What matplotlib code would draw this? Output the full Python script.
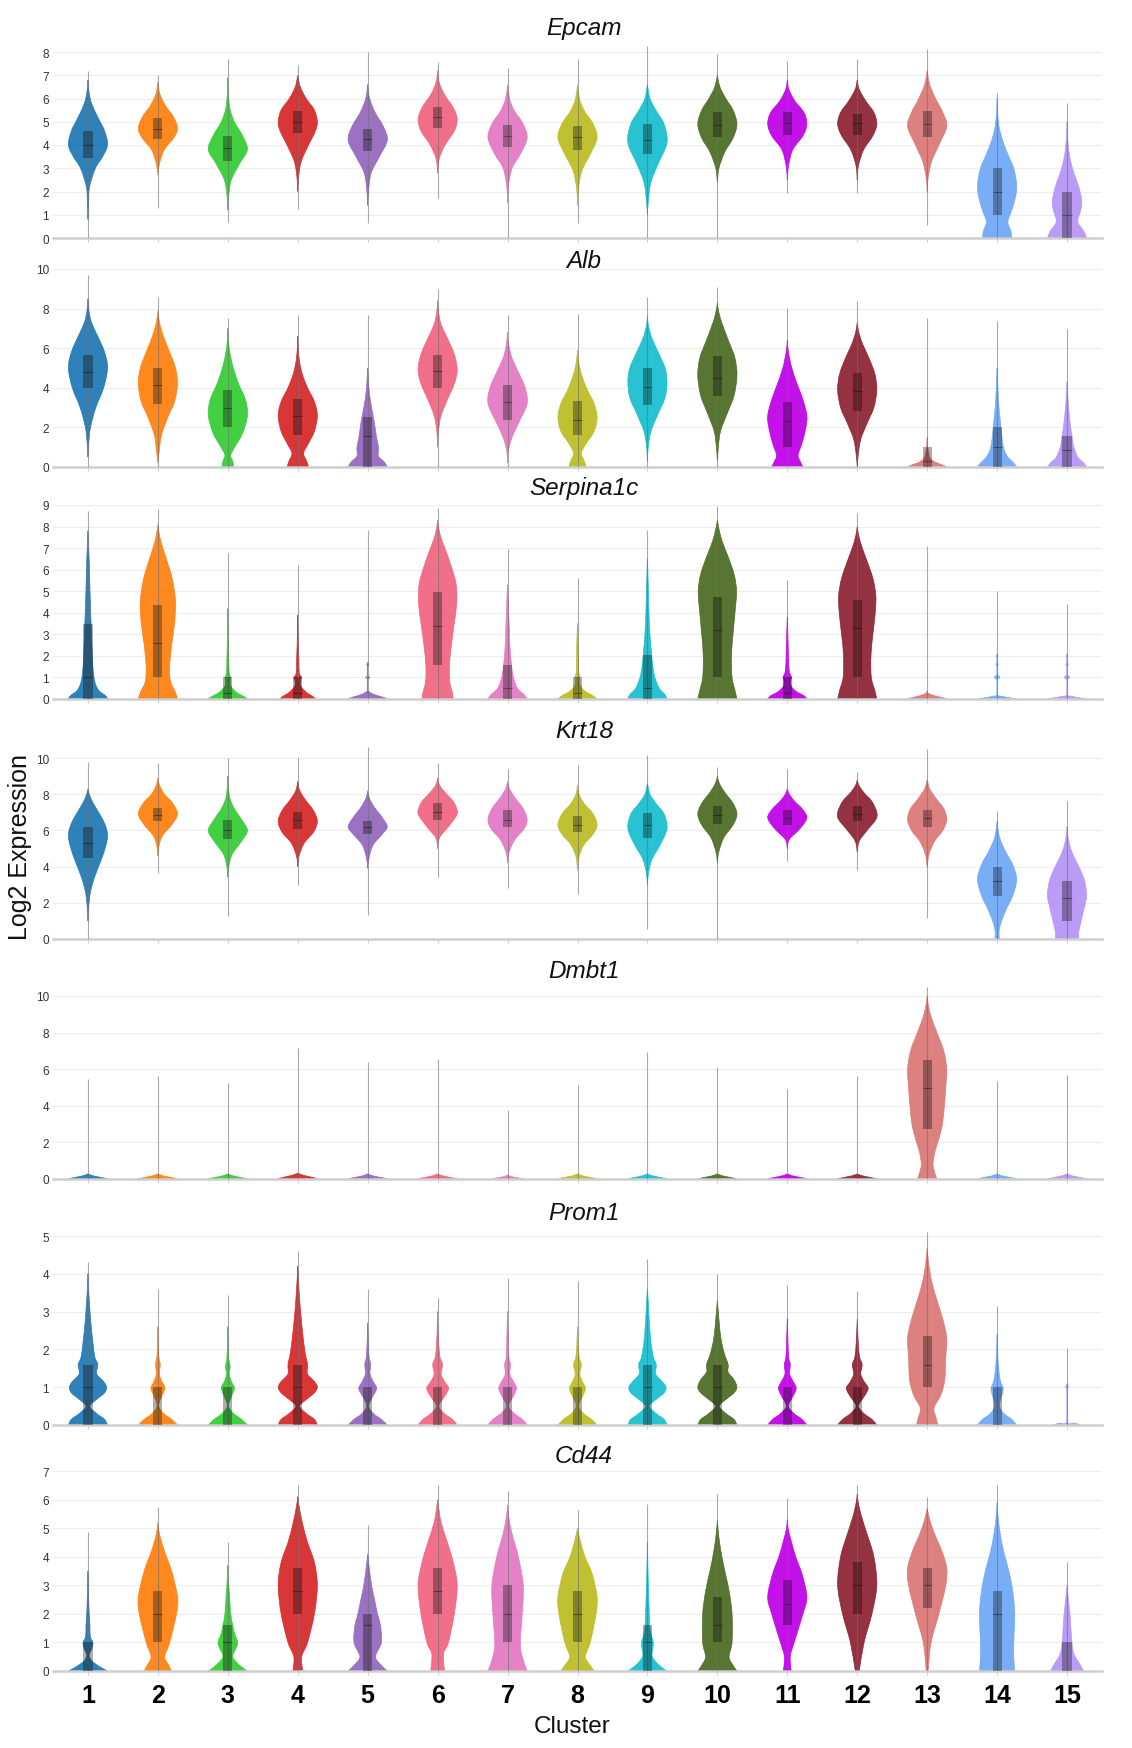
import numpy as np
import matplotlib
matplotlib.use('Agg')
import matplotlib.pyplot as plt
from matplotlib.path import Path
from matplotlib.patches import PathPatch, Rectangle
import logging
logging.getLogger('matplotlib.font_manager').setLevel(logging.ERROR)

plt.rcParams['font.family'] = ['Liberation Sans', 'DejaVu Sans']

# ---------------- data ----------------
CLUSTERS = list(range(1, 16))
COLORS = ['#1f77b4', '#ff7f0e', '#33cc33', '#d62728', '#9467bd', '#f0647f', '#e377c2',
          '#bcbd22', '#17becf', '#4b6b24', '#bf00e6', '#8c2232', '#da7875', '#6fa8f7', '#b594f7']
GENES = ['Epcam', 'Alb', 'Serpina1c', 'Krt18', 'Dmbt1', 'Prom1', 'Cd44']

EPCAM_TICKS = [0, 1, 2, 3, 4, 5, 6, 7, 8]
ALB_TICKS = [0, 2, 4, 6, 8, 10]
SERPINA1C_TICKS = [0, 1, 2, 3, 4, 5, 6, 7, 8, 9]
KRT18_TICKS = [0, 2, 4, 6, 8, 10]
DMBT1_TICKS = [0, 2, 4, 6, 8, 10]
PROM1_TICKS = [0, 1, 2, 3, 4, 5]
CD44_TICKS = [0, 1, 2, 3, 4, 5, 6, 7]

# (min, q1, median, q3, max) per cluster
EPCAM_STATS = [(0, 3.45, 4.0, 4.6, 7.2), (1.3, 4.25, 4.7, 5.15, 7.0), (0.7, 3.3, 3.85, 4.4, 7.7),
               (1.25, 4.5, 5.0, 5.45, 7.45), (0.65, 3.75, 4.25, 4.7, 8.0), (1.7, 4.75, 5.2, 5.65, 7.55),
               (0, 3.9, 4.4, 4.85, 7.3), (0.65, 3.8, 4.35, 4.8, 7.7), (0, 3.6, 4.2, 4.9, 8.25),
               (0, 4.35, 4.85, 5.4, 7.9), (1.95, 4.45, 4.95, 5.4, 7.6), (1.95, 4.45, 4.95, 5.35, 7.7),
               (0.55, 4.35, 4.9, 5.45, 8.15), (0, 1.0, 2.0, 3.0, 6.25), (0, 0.0, 1.0, 2.0, 5.8)]
ALB_STATS = [(0, 4.0, 4.8, 5.65, 9.7), (0, 3.2, 4.15, 5.0, 8.6), (0, 2.0, 3.0, 3.9, 7.55),
             (0, 1.6, 2.6, 3.45, 7.7), (0, 0.0, 1.55, 2.55, 7.7), (0, 4.0, 4.85, 5.65, 9.0),
             (0, 2.35, 3.3, 4.15, 7.7), (0, 1.6, 2.35, 3.35, 7.75), (0, 3.15, 4.05, 5.0, 8.6),
             (0, 3.6, 4.5, 5.6, 9.1), (0, 1.0, 2.3, 3.3, 8.05), (0, 2.85, 3.85, 4.75, 8.4),
             (0, 0.0, 0.3, 1.0, 7.55), (0, 0.0, 1.0, 2.0, 7.35), (0, 0.0, 0.85, 1.55, 6.95)]
SERPINA1C_STATS = [(0, 0, 1.0, 3.5, 8.7), (0, 1.0, 2.6, 4.35, 8.8), (0, 0, 0.3, 1.0, 6.75),
                   (0, 0, 0.3, 1.0, 6.2), (0, 0, 0, 0, 7.85), (0, 1.6, 3.4, 4.95, 8.85),
                   (0, 0, 0.5, 1.6, 6.95), (0, 0, 0.3, 1.0, 5.6), (0, 0, 0.5, 2.05, 7.85),
                   (0, 1.0, 3.2, 4.75, 8.95), (0, 0, 0.3, 1.0, 5.5), (0, 1.0, 3.3, 4.6, 8.65),
                   (0, 0, 0, 0, 7.1), (0, 0, 0, 0, 5.0), (0, 0, 0, 0, 4.4)]
KRT18_STATS = [(0, 4.5, 5.3, 6.2, 9.8), (3.65, 6.5, 6.85, 7.25, 9.75), (1.25, 5.5, 6.0, 6.55, 10.0),
               (3.0, 6.1, 6.55, 7.0, 10.05), (1.3, 5.8, 6.2, 6.5, 10.6), (3.4, 6.6, 7.0, 7.5, 9.7),
               (2.8, 6.2, 6.6, 7.1, 9.4), (2.5, 5.9, 6.3, 6.8, 9.6), (0.55, 5.6, 6.3, 6.95, 10.15),
               (0, 6.35, 6.85, 7.35, 9.5), (4.3, 6.3, 6.7, 7.1, 9.4), (3.8, 6.5, 6.9, 7.35, 9.25),
               (1.15, 6.2, 6.7, 7.15, 10.5), (0, 2.35, 3.2, 4.0, 7.05), (0, 1.0, 2.25, 3.2, 7.6)]
DMBT1_STATS = [(0, 0, 0, 0, 5.45), (0, 0, 0, 0, 5.64), (0, 0, 0, 0, 5.27), (0, 0, 0, 0, 7.15),
               (0, 0, 0, 0, 6.42), (0, 0, 0, 0, 6.58), (0, 0, 0, 0, 3.78), (0, 0, 0, 0, 5.15),
               (0, 0, 0, 0, 6.96), (0, 0, 0, 0, 6.13), (0, 0, 0, 0, 4.91), (0, 0, 0, 0, 5.64),
               (0, 2.75, 5.0, 6.5, 10.5), (0, 0, 0, 0, 5.33), (0, 0, 0, 0, 5.67)]
PROM1_STATS = [(0, 0, 1.0, 1.6, 4.3), (0, 0, 0, 1.0, 3.6), (0, 0, 0, 1.0, 3.45), (0, 0, 1.0, 1.6, 4.6),
               (0, 0, 0, 1.0, 3.6), (0, 0, 0, 1.0, 3.35), (0, 0, 0, 1.0, 3.9), (0, 0, 0, 1.0, 3.8),
               (0, 0, 1.0, 1.6, 4.4), (0, 0, 1.0, 1.6, 4.0), (0, 0, 0, 1.0, 3.7), (0, 0, 0, 1.0, 3.55),
               (0, 1.0, 1.6, 2.35, 5.1), (0, 0, 0, 1.0, 3.15), (0, 0, 0, 0, 2.05)]
CD44_STATS = [(0, 0, 0, 1.0, 4.85), (0, 1.0, 2.0, 2.8, 5.75), (0, 0, 1.0, 1.6, 4.5), (0, 2.0, 2.8, 3.6, 6.5),
              (0, 0, 1.6, 2.0, 5.1), (0, 2.0, 2.8, 3.6, 6.5), (0, 1.0, 2.0, 3.0, 6.3), (0, 1.0, 2.0, 2.8, 5.65),
              (0, 0, 1.0, 1.6, 5.85), (0, 1.0, 1.6, 2.6, 6.2), (0, 1.6, 2.35, 3.2, 6.05), (0, 2.0, 3.0, 3.8, 6.5),
              (0, 2.2, 3.0, 3.6, 6.1), (0, 0, 2.0, 2.8, 6.5), (0, 0, 0, 1.0, 3.8)]

# violin outlines: (value, relative half width)
EPCAM_SHAPES = [
    [(0.8, 0), (1.5, 0.03), (2.2, 0.08), (3.0, 0.38), (3.5, 0.75), (4.0, 1.0), (4.6, 0.85), (5.2, 0.5), (5.8, 0.18), (6.3, 0.05), (6.8, 0)],
    [(2.7, 0), (3.2, 0.08), (3.8, 0.33), (4.3, 0.8), (4.7, 1.0), (5.2, 0.8), (5.7, 0.38), (6.2, 0.1), (6.7, 0)],
    [(1.2, 0), (1.8, 0.04), (2.5, 0.18), (3.2, 0.6), (3.8, 1.0), (4.4, 0.75), (5.0, 0.33), (5.6, 0.1), (6.3, 0.02), (6.9, 0)],
    [(2.0, 0), (2.6, 0.04), (3.3, 0.18), (4.0, 0.55), (4.6, 0.9), (5.0, 1.0), (5.5, 0.85), (6.0, 0.43), (6.5, 0.13), (7.0, 0)],
    [(1.4, 0), (2.0, 0.04), (2.8, 0.18), (3.5, 0.6), (4.2, 1.0), (4.8, 0.8), (5.4, 0.38), (6.0, 0.1), (6.6, 0)],
    [(2.8, 0), (3.4, 0.08), (4.0, 0.38), (4.6, 0.85), (5.1, 1.0), (5.6, 0.8), (6.2, 0.33), (6.7, 0.08), (7.2, 0)],
    [(1.5, 0), (2.2, 0.04), (3.0, 0.23), (3.6, 0.65), (4.3, 1.0), (4.9, 0.8), (5.5, 0.33), (6.0, 0.1), (6.6, 0)],
    [(1.4, 0), (2.1, 0.04), (2.9, 0.23), (3.6, 0.65), (4.3, 1.0), (4.9, 0.8), (5.5, 0.33), (6.0, 0.1), (6.6, 0)],
    [(1.0, 0), (1.6, 0.05), (2.4, 0.18), (3.2, 0.55), (4.1, 1.0), (4.9, 0.85), (5.5, 0.43), (6.0, 0.13), (6.6, 0)],
    [(2.4, 0), (3.0, 0.08), (3.7, 0.38), (4.3, 0.8), (4.9, 1.0), (5.5, 0.8), (6.0, 0.43), (6.5, 0.13), (7.0, 0)],
    [(2.5, 0), (3.1, 0.06), (3.8, 0.28), (4.4, 0.8), (4.9, 1.0), (5.4, 0.85), (5.9, 0.38), (6.4, 0.08), (6.8, 0)],
    [(2.5, 0), (3.1, 0.06), (3.8, 0.33), (4.4, 0.8), (4.9, 1.0), (5.4, 0.85), (5.9, 0.43), (6.4, 0.1), (6.8, 0)],
    [(2.0, 0), (2.6, 0.05), (3.3, 0.23), (4.0, 0.6), (4.8, 1.0), (5.4, 0.8), (6.0, 0.43), (6.6, 0.13), (7.2, 0)],
    [(0, 0.75), (0.3, 0.7), (0.7, 0.55), (1.2, 0.75), (1.8, 0.95), (2.3, 1.0), (3.0, 0.85), (3.6, 0.55), (4.2, 0.28), (4.8, 0.1), (5.5, 0.02), (6.0, 0)],
    [(0, 1.0), (0.3, 0.85), (0.7, 0.55), (1.2, 0.7), (1.6, 0.75), (2.2, 0.6), (2.8, 0.35), (3.4, 0.16), (4.0, 0.06), (4.6, 0.01), (5.0, 0)],
]
ALB_SHAPES = [
    [(0.5, 0), (1.2, 0.04), (2.0, 0.13), (3.0, 0.4), (4.0, 0.8), (5.0, 1.0), (5.8, 0.85), (6.6, 0.5), (7.3, 0.18), (7.9, 0.05), (8.5, 0)],
    [(0.2, 0), (0.8, 0.07), (1.6, 0.18), (2.5, 0.5), (3.3, 0.85), (4.2, 1.0), (5.0, 0.9), (5.8, 0.6), (6.6, 0.28), (7.3, 0.08), (7.9, 0)],
    [(0, 0.3), (0.3, 0.25), (0.6, 0.15), (1.0, 0.35), (1.7, 0.75), (2.6, 1.0), (3.4, 0.9), (4.2, 0.55), (5.0, 0.28), (5.8, 0.1), (6.5, 0.02), (7.0, 0)],
    [(0, 0.55), (0.3, 0.45), (0.7, 0.3), (1.2, 0.55), (1.8, 0.85), (2.6, 1.0), (3.3, 0.85), (4.0, 0.5), (4.7, 0.23), (5.4, 0.08), (6.1, 0.02), (6.6, 0)],
    [(0, 1.0), (0.25, 0.85), (0.55, 0.55), (1.0, 0.55), (1.5, 0.45), (2.2, 0.35), (3.0, 0.2), (3.8, 0.08), (4.5, 0.03), (5.0, 0)],
    [(1.0, 0), (1.8, 0.04), (2.6, 0.18), (3.4, 0.5), (4.2, 0.85), (4.9, 1.0), (5.7, 0.85), (6.5, 0.5), (7.2, 0.18), (7.8, 0.05), (8.4, 0)],
    [(0.2, 0), (0.8, 0.04), (1.5, 0.23), (2.3, 0.6), (3.2, 1.0), (4.0, 0.9), (4.8, 0.55), (5.5, 0.23), (6.2, 0.06), (6.8, 0)],
    [(0, 0.45), (0.3, 0.35), (0.7, 0.2), (1.2, 0.45), (1.8, 0.85), (2.5, 1.0), (3.2, 0.85), (3.9, 0.5), (4.6, 0.23), (5.3, 0.06), (5.9, 0)],
    [(0.3, 0), (1.0, 0.04), (1.8, 0.18), (2.7, 0.55), (3.5, 0.9), (4.3, 1.0), (5.0, 0.9), (5.8, 0.55), (6.5, 0.23), (7.1, 0.06), (7.6, 0)],
    [(0.3, 0), (1.0, 0.05), (1.8, 0.16), (2.7, 0.5), (3.6, 0.85), (4.6, 1.0), (5.5, 0.9), (6.3, 0.6), (7.0, 0.33), (7.7, 0.1), (8.3, 0)],
    [(0, 0.8), (0.3, 0.65), (0.6, 0.55), (1.2, 0.75), (2.0, 0.95), (2.6, 1.0), (3.4, 0.8), (4.2, 0.5), (5.0, 0.23), (5.8, 0.06), (6.4, 0)],
    [(0, 0), (0.6, 0.05), (1.4, 0.18), (2.2, 0.5), (3.0, 0.85), (3.9, 1.0), (4.7, 0.9), (5.5, 0.6), (6.2, 0.28), (6.8, 0.08), (7.3, 0)],
    [(0, 1.0), (0.1, 0.8), (0.25, 0.4), (0.45, 0.15), (0.8, 0.06), (1.1, 0.02), (1.5, 0)],
    [(0, 1.0), (0.2, 0.85), (0.5, 0.55), (0.9, 0.35), (1.5, 0.25), (2.2, 0.18), (3.0, 0.1), (3.8, 0.05), (4.6, 0.02), (5.0, 0)],
    [(0, 1.0), (0.2, 0.85), (0.5, 0.55), (1.0, 0.35), (1.6, 0.25), (2.3, 0.15), (3.0, 0.08), (3.7, 0.03), (4.3, 0)],
]
SERPINA1C_SHAPES = [
    [(0, 1.0), (0.15, 0.9), (0.4, 0.55), (0.8, 0.35), (1.5, 0.25), (2.5, 0.2), (3.5, 0.16), (4.5, 0.12), (5.5, 0.09), (6.5, 0.06), (7.3, 0.02), (7.8, 0)],
    [(0, 1.0), (0.3, 0.9), (0.8, 0.65), (1.5, 0.6), (2.5, 0.7), (3.5, 0.85), (4.5, 0.9), (5.5, 0.75), (6.3, 0.5), (7.0, 0.25), (7.6, 0.08), (8.1, 0)],
    [(0, 1.0), (0.1, 0.85), (0.3, 0.45), (0.6, 0.15), (0.9, 0.12), (1.0, 0.15), (1.2, 0.07), (1.8, 0.05), (2.5, 0.03), (3.5, 0.015), (4.2, 0)],
    [(0, 0.9), (0.1, 0.8), (0.3, 0.45), (0.6, 0.15), (0.9, 0.15), (1.0, 0.2), (1.2, 0.08), (1.8, 0.06), (2.6, 0.03), (3.5, 0.01), (3.9, 0)],
    [(0, 1.0), (0.08, 0.8), (0.2, 0.35), (0.35, 0.05), (0.5, 0), (0.9, 0), (1.0, 0.1), (1.1, 0), (1.5, 0), (1.6, 0.05), (1.7, 0)],
    [(0, 0.8), (0.3, 0.75), (0.8, 0.62), (1.5, 0.6), (2.5, 0.7), (3.5, 0.85), (4.5, 0.98), (5.3, 0.95), (6.0, 0.75), (6.8, 0.45), (7.4, 0.2), (7.9, 0.06), (8.3, 0)],
    [(0, 1.0), (0.2, 0.85), (0.5, 0.5), (1.0, 0.3), (1.6, 0.2), (2.5, 0.12), (3.5, 0.08), (4.5, 0.04), (5.3, 0)],
    [(0, 1.0), (0.15, 0.8), (0.35, 0.4), (0.6, 0.15), (0.9, 0.1), (1.0, 0.13), (1.3, 0.06), (2.0, 0.05), (2.8, 0.03), (3.5, 0)],
    [(0, 1.0), (0.2, 0.9), (0.5, 0.6), (1.0, 0.38), (1.5, 0.28), (2.2, 0.2), (3.0, 0.13), (4.0, 0.08), (5.0, 0.05), (6.0, 0.02), (6.5, 0)],
    [(0, 1.0), (0.4, 0.9), (1.0, 0.75), (2.0, 0.72), (3.0, 0.8), (4.0, 0.9), (5.0, 0.98), (5.8, 0.85), (6.6, 0.55), (7.3, 0.25), (7.9, 0.08), (8.3, 0)],
    [(0, 1.0), (0.15, 0.85), (0.35, 0.45), (0.6, 0.2), (0.9, 0.18), (1.0, 0.22), (1.3, 0.1), (2.0, 0.06), (3.0, 0.03), (3.8, 0)],
    [(0, 1.0), (0.4, 0.9), (1.0, 0.72), (2.0, 0.7), (3.0, 0.8), (4.0, 0.92), (4.8, 0.95), (5.6, 0.8), (6.4, 0.5), (7.1, 0.22), (7.6, 0.07), (8.0, 0)],
    [(0, 1.0), (0.06, 0.8), (0.16, 0.35), (0.27, 0.05), (0.37, 0)],
    [(0, 1.0), (0.05, 0.7), (0.13, 0.2), (0.22, 0), (0.85, 0), (1.0, 0.14), (1.15, 0), (1.5, 0), (1.6, 0.06), (1.7, 0), (1.92, 0), (2.0, 0.04), (2.08, 0)],
    [(0, 1.0), (0.05, 0.7), (0.13, 0.2), (0.22, 0), (0.85, 0), (1.0, 0.14), (1.15, 0), (1.5, 0), (1.6, 0.06), (1.7, 0), (1.92, 0), (2.0, 0.04), (2.08, 0)],
]
KRT18_SHAPES = [
    [(1.0, 0), (1.8, 0.04), (2.6, 0.13), (3.4, 0.33), (4.3, 0.65), (5.1, 0.9), (5.8, 1.0), (6.5, 0.8), (7.2, 0.43), (7.8, 0.13), (8.3, 0)],
    [(4.6, 0), (5.1, 0.05), (5.7, 0.23), (6.3, 0.7), (6.9, 1.0), (7.5, 0.75), (8.0, 0.33), (8.5, 0.08), (8.9, 0)],
    [(3.4, 0), (4.0, 0.05), (4.7, 0.23), (5.4, 0.7), (6.0, 1.0), (6.6, 0.7), (7.2, 0.33), (7.8, 0.1), (8.5, 0.02), (9.0, 0)],
    [(4.0, 0), (4.6, 0.07), (5.3, 0.33), (5.9, 0.8), (6.5, 1.0), (7.1, 0.8), (7.7, 0.38), (8.2, 0.1), (8.7, 0)],
    [(3.9, 0), (4.5, 0.07), (5.2, 0.28), (5.8, 0.75), (6.2, 1.0), (6.7, 0.75), (7.3, 0.33), (7.8, 0.08), (8.2, 0)],
    [(5.0, 0), (5.6, 0.1), (6.2, 0.55), (6.8, 0.95), (7.1, 1.0), (7.6, 0.8), (8.1, 0.38), (8.5, 0.1), (8.9, 0)],
    [(4.2, 0), (4.8, 0.08), (5.5, 0.38), (6.1, 0.85), (6.6, 1.0), (7.2, 0.8), (7.8, 0.38), (8.3, 0.1), (8.7, 0)],
    [(3.8, 0), (4.5, 0.07), (5.2, 0.33), (5.8, 0.8), (6.3, 1.0), (6.9, 0.8), (7.5, 0.33), (8.0, 0.08), (8.5, 0)],
    [(3.0, 0), (3.6, 0.05), (4.4, 0.23), (5.2, 0.65), (6.1, 1.0), (6.9, 0.85), (7.5, 0.43), (8.0, 0.13), (8.6, 0)],
    [(4.2, 0), (4.8, 0.07), (5.6, 0.33), (6.3, 0.8), (6.9, 1.0), (7.5, 0.8), (8.1, 0.38), (8.6, 0.1), (9.0, 0)],
    [(5.0, 0), (5.5, 0.1), (6.1, 0.65), (6.7, 1.0), (7.2, 0.75), (7.6, 0.38), (8.0, 0.1), (8.3, 0)],
    [(4.8, 0), (5.4, 0.1), (6.0, 0.5), (6.6, 0.95), (7.0, 1.0), (7.6, 0.75), (8.1, 0.33), (8.5, 0.08), (8.8, 0)],
    [(4.0, 0), (4.7, 0.1), (5.4, 0.38), (6.0, 0.8), (6.6, 1.0), (7.2, 0.85), (7.8, 0.43), (8.3, 0.13), (8.8, 0)],
    [(0, 0.12), (0.4, 0.1), (0.9, 0.2), (1.6, 0.45), (2.4, 0.8), (3.3, 1.0), (4.1, 0.8), (4.8, 0.45), (5.5, 0.16), (6.1, 0.04), (6.5, 0)],
    [(0, 0.6), (0.4, 0.6), (0.9, 0.7), (1.6, 0.85), (2.4, 1.0), (3.2, 0.9), (3.9, 0.65), (4.6, 0.33), (5.2, 0.13), (5.8, 0.03), (6.2, 0)],
]
_BLOB = [(0, 1.0), (0.07, 0.75), (0.17, 0.28), (0.28, 0)]
DMBT1_SHAPES = [
    _BLOB, _BLOB, _BLOB, [(0, 1.0), (0.08, 0.8), (0.2, 0.3), (0.32, 0)], _BLOB, _BLOB,
    [(0, 0.8), (0.06, 0.55), (0.13, 0.2), (0.22, 0)], _BLOB, _BLOB, _BLOB, _BLOB, _BLOB,
    [(0, 0.5), (0.3, 0.4), (0.8, 0.3), (1.5, 0.4), (2.2, 0.6), (3.0, 0.78), (4.0, 0.88), (5.0, 0.95), (6.0, 1.0), (7.0, 0.85), (8.0, 0.5), (8.8, 0.22), (9.5, 0.06), (10.0, 0)],
    _BLOB, _BLOB,
]
PROM1_SHAPES = [
    [(0, 1.0), (0.15, 0.85), (0.3, 0.45), (0.5, 0.1), (0.7, 0.5), (0.85, 0.85), (1.0, 0.95), (1.15, 0.8), (1.35, 0.45), (1.6, 0.5), (1.8, 0.35), (2.2, 0.25), (2.7, 0.15), (3.2, 0.08), (3.6, 0.03), (4.0, 0)],
    [(0, 1.0), (0.15, 0.7), (0.3, 0.3), (0.5, 0.04), (0.75, 0.18), (0.9, 0.32), (1.0, 0.35), (1.15, 0.2), (1.35, 0.08), (1.6, 0.12), (1.8, 0.05), (2.2, 0.02), (2.6, 0)],
    [(0, 1.0), (0.15, 0.7), (0.3, 0.3), (0.5, 0.03), (0.75, 0.18), (0.9, 0.3), (1.0, 0.33), (1.15, 0.18), (1.35, 0.07), (1.55, 0.12), (1.75, 0.05), (2.2, 0.02), (2.6, 0)],
    [(0, 1.0), (0.15, 0.85), (0.3, 0.45), (0.5, 0.1), (0.7, 0.5), (0.85, 0.85), (1.0, 1.0), (1.15, 0.85), (1.35, 0.5), (1.6, 0.5), (1.9, 0.38), (2.3, 0.28), (2.8, 0.18), (3.3, 0.1), (3.8, 0.04), (4.2, 0)],
    [(0, 1.0), (0.15, 0.7), (0.3, 0.3), (0.5, 0.05), (0.75, 0.25), (0.9, 0.42), (1.0, 0.45), (1.15, 0.28), (1.35, 0.12), (1.6, 0.15), (1.8, 0.07), (2.2, 0.03), (2.7, 0)],
    [(0, 1.0), (0.15, 0.75), (0.3, 0.35), (0.5, 0.06), (0.75, 0.35), (0.9, 0.52), (1.0, 0.55), (1.15, 0.35), (1.35, 0.18), (1.6, 0.25), (1.8, 0.12), (2.2, 0.05), (2.6, 0.02), (3.0, 0)],
    [(0, 1.0), (0.15, 0.75), (0.3, 0.35), (0.5, 0.05), (0.75, 0.28), (0.9, 0.42), (1.0, 0.45), (1.15, 0.3), (1.35, 0.12), (1.6, 0.15), (1.8, 0.07), (2.3, 0.04), (3.0, 0)],
    [(0, 1.0), (0.15, 0.72), (0.3, 0.32), (0.5, 0.05), (0.75, 0.25), (0.9, 0.38), (1.0, 0.4), (1.15, 0.25), (1.35, 0.12), (1.6, 0.2), (1.8, 0.08), (2.2, 0.03), (2.6, 0)],
    [(0, 1.0), (0.15, 0.85), (0.3, 0.45), (0.5, 0.1), (0.7, 0.5), (0.85, 0.85), (1.0, 0.95), (1.15, 0.75), (1.35, 0.42), (1.6, 0.45), (1.8, 0.3), (2.2, 0.18), (2.7, 0.1), (3.2, 0.05), (3.6, 0)],
    [(0, 1.0), (0.15, 0.85), (0.3, 0.45), (0.5, 0.1), (0.7, 0.5), (0.85, 0.85), (1.0, 1.0), (1.2, 0.85), (1.4, 0.55), (1.6, 0.55), (1.9, 0.35), (2.3, 0.18), (2.8, 0.08), (3.3, 0)],
    [(0, 1.0), (0.15, 0.75), (0.3, 0.35), (0.5, 0.05), (0.75, 0.28), (0.9, 0.42), (1.0, 0.45), (1.15, 0.3), (1.35, 0.12), (1.6, 0.15), (1.8, 0.07), (2.3, 0.03), (2.8, 0)],
    [(0, 1.0), (0.15, 0.75), (0.3, 0.35), (0.5, 0.06), (0.75, 0.35), (0.9, 0.52), (1.0, 0.55), (1.15, 0.35), (1.35, 0.18), (1.6, 0.25), (1.8, 0.12), (2.2, 0.05), (2.8, 0)],
    [(0, 0.55), (0.2, 0.45), (0.45, 0.35), (0.8, 0.7), (1.2, 0.9), (1.8, 0.95), (2.3, 1.0), (2.8, 0.8), (3.3, 0.5), (3.8, 0.23), (4.3, 0.07), (4.7, 0)],
    [(0, 1.0), (0.15, 0.75), (0.3, 0.35), (0.5, 0.12), (0.75, 0.22), (0.9, 0.3), (1.0, 0.3), (1.15, 0.18), (1.4, 0.1), (1.8, 0.04), (2.4, 0)],
    [(0, 0.7), (0.05, 0.4), (0.11, 0), (0.9, 0), (1.0, 0.07), (1.1, 0)],
]
CD44_SHAPES = [
    [(0, 1.0), (0.15, 0.6), (0.35, 0.2), (0.55, 0.06), (0.8, 0.2), (1.0, 0.25), (1.2, 0.12), (1.6, 0.1), (2.2, 0.05), (3.0, 0.02), (3.5, 0)],
    [(0, 0.7), (0.2, 0.55), (0.5, 0.35), (1.0, 0.6), (2.0, 0.95), (2.6, 1.0), (3.5, 0.7), (4.2, 0.33), (4.8, 0.08), (5.2, 0)],
    [(0, 1.0), (0.2, 0.6), (0.5, 0.25), (0.8, 0.42), (1.0, 0.5), (1.3, 0.35), (1.6, 0.25), (2.0, 0.15), (2.5, 0.1), (3.1, 0.04), (3.7, 0)],
    [(0, 0.25), (0.5, 0.2), (1.0, 0.5), (2.0, 0.85), (3.0, 1.0), (3.8, 0.85), (4.5, 0.5), (5.2, 0.23), (5.8, 0.06), (6.1, 0)],
    [(0, 1.0), (0.2, 0.7), (0.5, 0.4), (1.0, 0.7), (1.6, 0.65), (2.0, 0.5), (2.5, 0.35), (3.0, 0.2), (3.6, 0.08), (4.1, 0)],
    [(0, 0.35), (0.6, 0.3), (1.0, 0.55), (2.0, 0.85), (3.0, 1.0), (3.8, 0.8), (4.5, 0.5), (5.2, 0.18), (5.8, 0.04), (6.0, 0)],
    [(0, 1.0), (0.5, 0.75), (1.0, 0.65), (2.0, 0.75), (3.0, 0.8), (4.0, 0.55), (4.8, 0.23), (5.4, 0.06), (5.8, 0)],
    [(0, 0.85), (0.2, 0.65), (0.5, 0.4), (1.0, 0.65), (2.0, 0.95), (2.6, 1.0), (3.4, 0.75), (4.0, 0.38), (4.6, 0.13), (5.0, 0)],
    [(0, 1.0), (0.2, 0.6), (0.5, 0.25), (0.8, 0.28), (1.0, 0.3), (1.3, 0.18), (1.6, 0.12), (2.5, 0.07), (3.5, 0.03), (4.5, 0)],
    [(0, 1.0), (0.2, 0.8), (0.5, 0.6), (1.0, 0.75), (2.0, 0.75), (2.8, 0.6), (3.5, 0.38), (4.2, 0.18), (4.8, 0.06), (5.3, 0)],
    [(0, 0.2), (0.5, 0.15), (1.0, 0.35), (2.0, 0.8), (2.6, 1.0), (3.4, 0.75), (4.0, 0.43), (4.6, 0.18), (5.0, 0.04), (5.3, 0)],
    [(0, 0.1), (1.0, 0.35), (2.0, 0.75), (3.0, 1.0), (4.0, 0.85), (4.8, 0.5), (5.5, 0.18), (6.0, 0.03), (6.2, 0)],
    [(0, 0.05), (1.0, 0.2), (2.0, 0.6), (3.0, 0.95), (3.6, 1.0), (4.2, 0.75), (4.8, 0.38), (5.3, 0.13), (5.7, 0)],
    [(0, 0.9), (0.5, 0.85), (1.0, 0.85), (2.0, 0.9), (2.8, 0.8), (3.5, 0.6), (4.2, 0.33), (4.8, 0.16), (5.4, 0.05), (5.9, 0)],
    [(0, 0.85), (0.3, 0.6), (0.6, 0.35), (1.0, 0.25), (1.5, 0.2), (2.0, 0.15), (2.5, 0.07), (3.0, 0)],
]

PANEL_STATS = [EPCAM_STATS, ALB_STATS, SERPINA1C_STATS, KRT18_STATS, DMBT1_STATS, PROM1_STATS, CD44_STATS]
PANEL_SHAPES = [EPCAM_SHAPES, ALB_SHAPES, SERPINA1C_SHAPES, KRT18_SHAPES, DMBT1_SHAPES, PROM1_SHAPES, CD44_SHAPES]
PANEL_TICKS = [EPCAM_TICKS, ALB_TICKS, SERPINA1C_TICKS, KRT18_TICKS, DMBT1_TICKS, PROM1_TICKS, CD44_TICKS]

# ---------------- layout (pixels) ----------------
W, H = 1132, 1749
AX_LEFT, AX_RIGHT = 53, 1102
# (pixel row of value 0, pixels per unit, top value of axis)
PANEL_LAYOUT = [(239, 23.25, 8.3), (468, 19.8, 10.1), (700, 21.56, 9.15), (940, 18.1, 10.75),
                (1180, 18.3, 10.6), (1426, 37.8, 5.15), (1672, 28.57, 7.1)]
TITLE_ROWS = [29, 261, 489, 731, 972, 1214, 1457]
HALF = 0.28
BOX_W = 0.13
NARROW = ['Liberation Sans Narrow', 'Liberation Sans', 'DejaVu Sans']


def bezier_side(pts):
    """Catmull-Rom -> cubic Bezier vertices in (w, y) space."""
    P = [np.array(p, dtype=float) for p in pts]
    n = len(P)
    verts = [P[0]]
    for i in range(n - 1):
        p_prev = P[i - 1] if i > 0 else P[i]
        p_next2 = P[i + 2] if i + 2 < n else P[i + 1]
        c1 = P[i] + (P[i + 1] - p_prev) / 6.0
        c2 = P[i + 1] - (p_next2 - P[i]) / 6.0
        c1[0] = max(c1[0], 0.0)
        c2[0] = max(c2[0], 0.0)
        verts += [c1, c2, P[i + 1]]
    return verts


def violin_path(xc, shape):
    pts = [(w * HALF, y) for (y, w) in shape]
    V = bezier_side(pts)
    right = [(xc + v[0], v[1]) for v in V]
    left = [(xc - v[0], v[1]) for v in V[::-1]]
    verts = right + left + [right[0]]
    codes = ([Path.MOVETO] + [Path.CURVE4] * (len(V) - 1) +
             [Path.LINETO] + [Path.CURVE4] * (len(V) - 1) + [Path.CLOSEPOLY])
    return Path(verts, codes)


fig = plt.figure(figsize=(W / 100, H / 100), dpi=100)
fig.patch.set_facecolor('white')

for gi, gene in enumerate(GENES):
    y0, ppu, top = PANEL_LAYOUT[gi]
    bottom = 1 - y0 / H
    height = top * ppu / H
    ax = fig.add_axes([AX_LEFT / W, bottom, (AX_RIGHT - AX_LEFT) / W, height])
    stats = PANEL_STATS[gi]
    shapes = PANEL_SHAPES[gi]
    for ci, c in enumerate(CLUSTERS):
        lo, q1, med, q3, hi = stats[ci]
        col = COLORS[ci]
        ax.add_patch(PathPatch(violin_path(c, shapes[ci]), facecolor=col, edgecolor=col,
                               lw=0.5, alpha=0.93, zorder=2))
        ax.vlines(c, lo, hi, color='#707070', lw=0.8, alpha=0.6, zorder=3)
        if q3 > q1:
            ax.add_patch(Rectangle((c - BOX_W / 2, q1), BOX_W, q3 - q1, facecolor='black',
                                   edgecolor='none', alpha=0.32, zorder=4))
            if med > q1:
                ax.hlines(med, c - BOX_W / 2, c + BOX_W / 2, color='black', alpha=0.35,
                          lw=0.8, zorder=5)
    ax.set_xlim(0.5, 15.5)
    ax.set_ylim(0, top)
    ax.set_yticks(PANEL_TICKS[gi])
    ax.set_yticklabels([str(t) for t in PANEL_TICKS[gi]], fontsize=8.5, color='#333333')
    ax.tick_params(axis='y', length=0, pad=3)
    ax.set_xticks(CLUSTERS)
    ax.tick_params(axis='x', length=3, color='#d0d0d0', width=0.8)
    if gi == len(GENES) - 1:
        ax.set_xticklabels([str(c) for c in CLUSTERS], fontsize=18, fontweight='bold',
                           family=NARROW)
        ax.tick_params(axis='x', pad=6)
    else:
        ax.set_xticklabels([])
    ax.yaxis.grid(True, color='#ededed', lw=0.8, zorder=0)
    ax.set_axisbelow(True)
    for s in ['top', 'right', 'left']:
        ax.spines[s].set_visible(False)
    ax.spines['bottom'].set_color('#cfcfcf')
    ax.spines['bottom'].set_linewidth(1.8)
    fig.text(584 / W, 1 - TITLE_ROWS[gi] / H, gene, ha='center', va='center',
             fontsize=17.5, fontstyle='italic', color='#111111')

fig.text(20 / W, 1 - 847 / H, 'Log2 Expression', rotation=90, ha='center', va='center',
         fontsize=18, color='#111111')
fig.text(572 / W, 1 - 1727 / H, 'Cluster', ha='center', va='center', fontsize=17.5,
         color='#111111')

fig.savefig('out.png', dpi=100, facecolor='white')
